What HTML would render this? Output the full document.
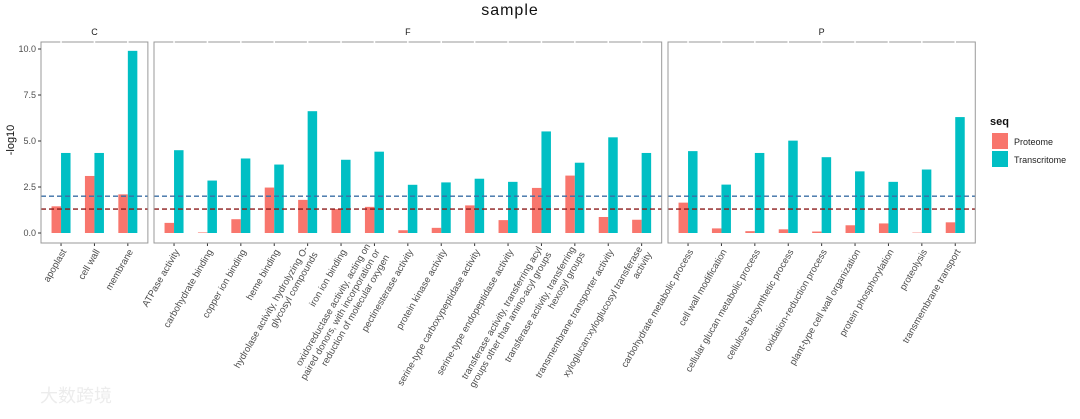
<!DOCTYPE html>
<html><head><meta charset="utf-8"><style>
body{margin:0;background:#fff;width:1080px;height:414px;overflow:hidden;font-family:"Liberation Sans","Noto Sans CJK SC",sans-serif}
</style></head><body>
<svg id="chart" width="1080" height="414" xmlns="http://www.w3.org/2000/svg" font-family="Liberation Sans, Noto Sans CJK SC, sans-serif">
<text x="510" y="15" font-size="16" text-anchor="middle" fill="#111" letter-spacing="1">sample</text>
<text transform="translate(14,140) rotate(-90)" font-size="11" text-anchor="middle" fill="#111">-log10</text>
<g id="plot"></g>
<g>
<text x="990" y="125" font-size="11" font-weight="bold" fill="#111">seq</text>
<rect x="992" y="133" width="16" height="16" fill="#F8766D"/>
<text x="1014" y="145" font-size="9" fill="#222">Proteome</text>
<rect x="992" y="151" width="16" height="16" fill="#00BFC4"/>
<text x="1014" y="163" font-size="9" fill="#222">Transcritome</text>
</g>
<text x="40" y="402" font-size="18" fill="#ececec">大数跨境</text>
</svg>
<script>
const facets = ["C","F","P"];
const facetC = ["apoplast","cell wall","membrane"];
const facetF = ["ATPase activity","carbohydrate binding","copper ion binding","heme binding","hydrolase activity, hydrolyzing O-\nglycosyl compounds","iron ion binding","oxidoreductase activity, acting on\npaired donors, with incorporation or\nreduction of molecular oxygen","pectinesterase activity","protein kinase activity","serine-type carboxypeptidase activity","serine-type endopeptidase activity","transferase activity, transferring acyl\ngroups other than amino-acyl groups","transferase activity, transferring\nhexosyl groups","transmembrane transporter activity","xyloglucan:xyloglucosyl transferase\nactivity"];
const facetP = ["carbohydrate metabolic process","cell wall modification","cellular glucan metabolic process","cellulose biosynthetic process","oxidation-reduction process","plant-type cell wall organization","protein phosphorylation","proteolysis","transmembrane transport"];
const proteomeC = [1.45,3.1,2.1];
const transC = [4.35,4.35,9.9];
const proteomeF = [0.55,0.03,0.75,2.47,1.8,1.3,1.42,0.15,0.28,1.5,0.7,2.45,3.12,0.87,0.72];
const transF = [4.5,2.85,4.05,3.72,6.62,3.98,4.42,2.62,2.75,2.95,2.78,5.52,3.82,5.2,4.35];
const proteomeP = [1.65,0.25,0.1,0.2,0.08,0.42,0.52,0.02,0.58];
const transP = [4.45,2.63,4.35,5.02,4.12,3.35,2.78,3.45,6.3];
const yTicks = [0,2.5,5,7.5,10];
const yTickLabels = ["0.0","2.5","5.0","7.5","10.0"];
const thresholds = [2.0,1.3];

const NS="http://www.w3.org/2000/svg";
const g=document.getElementById('plot');
function el(t,a,p){const e=document.createElementNS(NS,t);for(const k in a)e.setAttribute(k,a[k]);(p||g).appendChild(e);return e;}
const y0=233, yScale=18.4; function Y(v){return y0-v*yScale;}
const unit=33.4, topY=42, bottomY=243;
const panels=[{name:facets[0],cats:facetC,p:proteomeC,t:transC,x:41},{name:facets[1],cats:facetF,p:proteomeF,t:transF,x:154},{name:facets[2],cats:facetP,p:proteomeP,t:transP,x:668}];
const thrColors=["#3a6ea5","#8b1a1a"];
panels.forEach(function(pn){
  const w=(pn.cats.length+0.2)*unit;
  function X(i){return pn.x+(0.6+i)*unit;}
  const s=el('text',{x:pn.x+w/2,y:35,'font-size':9,'text-anchor':'middle',fill:'#1a1a1a'});
  
  
  s.textContent=pn.name;
  pn.cats.forEach(function(c,i){
    const cx=X(i), bw=9.5;
    const r1=el('rect',{x:cx-bw,y:Y(pn.p[i]),width:bw,height:y0-Y(pn.p[i]),fill:'#F8766D'});
    
    
    const r2=el('rect',{x:cx,y:Y(pn.t[i]),width:bw,height:y0-Y(pn.t[i]),fill:'#00BFC4'});
    
    
    el('line',{x1:cx,x2:cx,y1:bottomY,y2:bottomY+3,stroke:'#333','stroke-width':1});
    const lines=c.split('\n');
    const t=el('text',{transform:'translate('+(cx+3)+',250) rotate(-60)','font-size':9.5,'text-anchor':'end',fill:'#4d4d4d'});
    
    
    const n=lines.length;
    lines.forEach(function(ln,j){const ts=el('tspan',{x:0,y:(j-(n-1)/2)*11+3},t);ts.textContent=ln;});
  });
  thresholds.forEach(function(v,k){
    const l=el('line',{x1:pn.x,x2:pn.x+w,y1:Y(v),y2:Y(v),stroke:thrColors[k],'stroke-width':1.3,'stroke-dasharray':'5,3'});
    
    
  });
  const b=el('rect',{x:pn.x,y:topY,width:w,height:bottomY-topY,fill:'none',stroke:'#999','stroke-width':1});
  
  
  pn.cats.forEach(function(c,i){
    el('line',{x1:X(i),x2:X(i),y1:topY-1,y2:topY+1,stroke:'#fff','stroke-width':1.5});
  });
});
yTicks.forEach(function(v,i){
  el('line',{x1:38,x2:41,y1:Y(v),y2:Y(v),stroke:'#333'});
  const t=el('text',{x:36,y:Y(v)+3,'font-size':9,'text-anchor':'end',fill:'#4d4d4d'});
  
  
  t.textContent=yTickLabels[i];
});
</script>
</body></html>
